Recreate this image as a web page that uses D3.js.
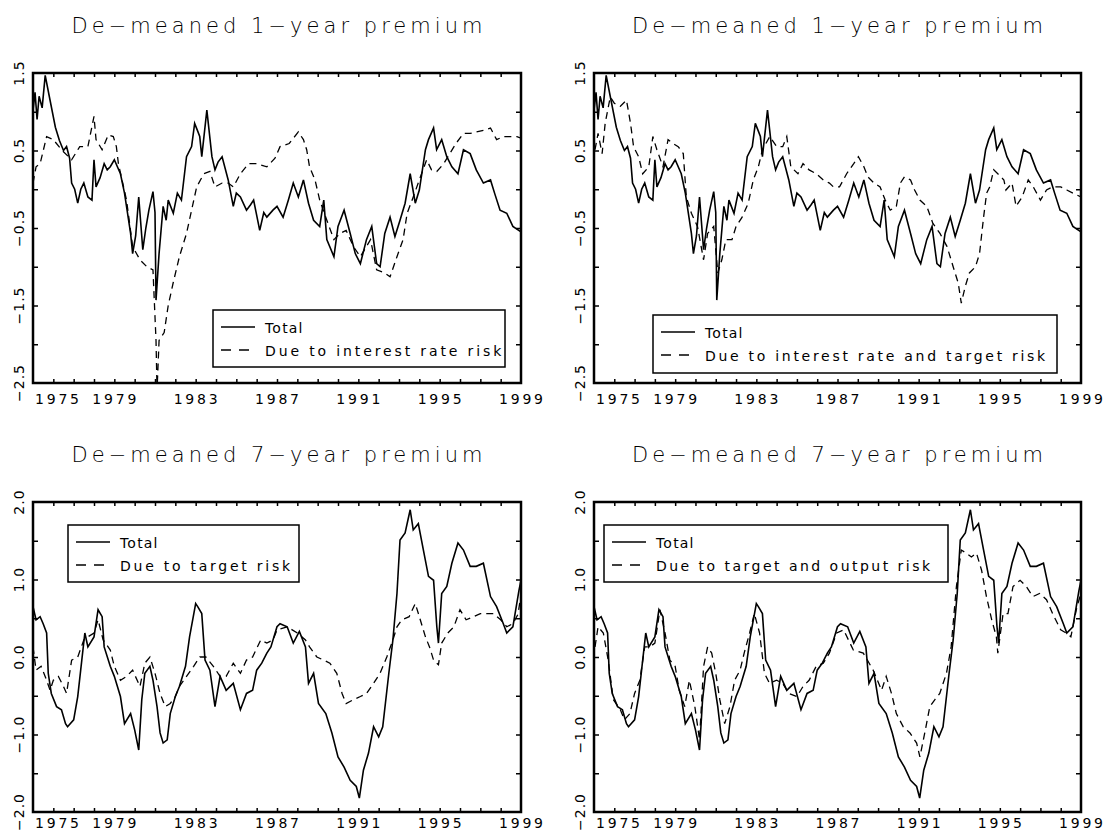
<!DOCTYPE html>
<html>
<head>
<meta charset="utf-8">
<script src="https://cdn.jsdelivr.net/npm/d3@7"></script>
<style>
  html,body{margin:0;padding:0;background:#fff;}
  svg{display:block;}
  text{fill:#000;}
</style>
</head>
<body>
<svg id="chart" width="1108" height="834"></svg>
<script>
// ---------------- DATA ----------------
const xTickLabels = [1975, 1979, 1983, 1987, 1991, 1995, 1999];
const yLabels1 = [1.5, 0.5, -0.5, -1.5, -2.5];
const yLabels7 = [2.0, 1.0, 0.0, -1.0, -2.0];

const titles = ["De\u2212meaned 1\u2212year premium", "De\u2212meaned 1\u2212year premium",
                "De\u2212meaned 7\u2212year premium", "De\u2212meaned 7\u2212year premium"];
const legendTotal = "Total";
const legendParts = ["Due to interest rate risk", "Due to interest rate and target risk",
                     "Due to target risk", "Due to target and output risk"];

// 1-year premium, total
const total1Years = [1975.00,1975.10,1975.20,1975.30,1975.45,1975.60,1975.80,1976.10,1976.30,1976.50,1976.65,1976.80,1976.90,1977.05,1977.20,1977.35,1977.50,1977.70,1977.90,1978.00,1978.10,1978.30,1978.50,1978.65,1978.80,1979.00,1979.30,1979.50,1979.80,1979.90,1980.05,1980.20,1980.40,1980.55,1980.70,1980.90,1981.00,1981.05,1981.20,1981.40,1981.55,1981.65,1981.90,1982.10,1982.30,1982.55,1982.80,1982.95,1983.10,1983.20,1983.30,1983.55,1983.80,1983.95,1984.10,1984.30,1984.60,1984.85,1985.00,1985.20,1985.50,1985.70,1985.85,1986.15,1986.35,1986.50,1986.80,1987.00,1987.30,1987.56,1987.80,1988.05,1988.30,1988.55,1988.80,1989.10,1989.30,1989.45,1989.80,1990.00,1990.30,1990.60,1990.85,1991.10,1991.40,1991.66,1991.90,1992.07,1992.30,1992.56,1992.80,1993.05,1993.30,1993.55,1993.80,1994.00,1994.30,1994.45,1994.70,1994.85,1995.10,1995.35,1995.60,1995.90,1996.17,1996.50,1996.80,1997.15,1997.50,1997.70,1997.97,1998.30,1998.60,1999.00];
const total1Values = [1.02,1.25,0.90,1.20,1.05,1.47,1.20,0.80,0.63,0.50,0.55,0.40,0.08,0.00,-0.18,0.00,0.08,-0.10,-0.14,0.38,0.03,0.15,0.33,0.25,0.29,0.38,0.20,-0.05,-0.57,-0.83,-0.60,-0.10,-0.78,-0.50,-0.27,-0.03,-0.30,-1.43,-0.83,-0.22,-0.40,-0.14,-0.31,-0.05,-0.14,0.42,0.55,0.85,0.75,0.68,0.42,1.02,0.42,0.25,0.35,0.42,0.12,-0.22,-0.05,-0.10,-0.27,-0.20,-0.14,-0.53,-0.30,-0.36,-0.27,-0.22,-0.36,-0.14,0.08,-0.10,0.12,-0.18,-0.40,-0.48,-0.14,-0.65,-0.87,-0.48,-0.27,-0.57,-0.83,-0.96,-0.65,-0.48,-0.96,-1.00,-0.57,-0.36,-0.61,-0.40,-0.18,0.20,-0.18,-0.01,0.51,0.64,0.79,0.51,0.64,0.42,0.29,0.20,0.51,0.46,0.25,0.08,0.12,-0.05,-0.27,-0.31,-0.48,-0.55];

// 1-year premium, due to interest rate risk
const rate1Years = [1975.00,1975.15,1975.35,1975.67,1976.00,1976.40,1976.90,1977.30,1977.70,1978.00,1978.10,1978.40,1978.70,1978.95,1979.10,1979.20,1979.60,1979.90,1980.26,1980.60,1980.90,1981.05,1981.10,1981.20,1981.45,1981.65,1981.90,1982.20,1982.55,1982.80,1983.05,1983.40,1983.70,1983.95,1984.30,1984.60,1984.85,1985.20,1985.60,1986.00,1986.50,1986.90,1987.15,1987.60,1988.05,1988.30,1988.46,1988.60,1988.87,1989.10,1989.45,1989.80,1990.10,1990.40,1990.76,1991.10,1991.60,1991.90,1992.30,1992.56,1992.90,1993.20,1993.40,1993.70,1994.00,1994.36,1994.60,1994.86,1995.20,1995.50,1995.80,1996.17,1996.50,1996.80,1997.15,1997.50,1997.80,1998.13,1998.46,1998.80,1999.00];
const rate1Values = [0.08,0.29,0.33,0.68,0.64,0.51,0.38,0.55,0.55,0.94,0.64,0.51,0.70,0.68,0.55,0.33,-0.14,-0.74,-0.91,-1.00,-1.04,-1.95,-2.60,-1.95,-1.85,-1.50,-1.20,-0.87,-0.57,-0.27,0.03,0.20,0.23,0.03,0.08,0.08,0.03,0.20,0.33,0.33,0.29,0.40,0.55,0.59,0.74,0.64,0.51,0.29,0.12,-0.14,-0.40,-0.65,-0.57,-0.53,-0.74,-0.87,-0.65,-1.04,-1.08,-1.13,-0.87,-0.65,-0.31,-0.10,0.12,0.38,0.25,0.23,0.33,0.46,0.59,0.72,0.72,0.74,0.76,0.79,0.64,0.68,0.68,0.68,0.66];

// 1-year premium, due to interest rate and target risk
const rateTarget1Years = [1975.05,1975.20,1975.40,1975.55,1975.80,1976.00,1976.30,1976.60,1976.80,1976.95,1977.20,1977.40,1977.70,1977.90,1978.10,1978.40,1978.65,1978.90,1979.15,1979.40,1979.55,1979.80,1980.10,1980.40,1980.60,1980.90,1981.10,1981.30,1981.50,1981.80,1982.00,1982.30,1982.60,1982.85,1983.10,1983.30,1983.66,1984.00,1984.30,1984.50,1984.70,1985.05,1985.30,1985.60,1985.95,1986.30,1986.60,1986.80,1987.10,1987.45,1987.80,1988.03,1988.30,1988.50,1988.80,1989.10,1989.35,1989.60,1989.90,1990.10,1990.30,1990.60,1990.80,1991.06,1991.40,1991.70,1992.05,1992.40,1992.70,1992.95,1993.10,1993.30,1993.50,1993.80,1994.00,1994.20,1994.35,1994.50,1994.70,1994.90,1995.20,1995.30,1995.60,1995.80,1996.10,1996.40,1996.65,1997.00,1997.30,1997.60,1998.00,1998.30,1998.60,1999.00];
const rateTarget1Values = [0.51,0.72,0.46,0.85,1.19,1.11,1.07,1.15,0.85,0.55,0.42,0.20,0.29,0.68,0.51,0.29,0.64,0.59,0.55,0.46,-0.10,-0.31,-0.48,-0.91,-0.57,-0.48,-1.08,-0.91,-0.65,-0.65,-0.48,-0.36,-0.18,0.12,0.29,0.51,0.68,0.55,0.55,0.68,0.29,0.20,0.33,0.25,0.20,0.12,0.08,0.03,0.03,0.20,0.33,0.42,0.29,0.16,0.08,0.03,-0.14,-0.27,-0.22,0.08,0.16,0.12,-0.01,-0.14,-0.22,-0.44,-0.57,-0.74,-1.00,-1.21,-1.47,-1.25,-1.08,-1.00,-0.83,-0.36,-0.05,0.03,0.25,0.20,0.12,-0.01,0.08,-0.22,-0.10,0.12,0.03,-0.14,-0.01,0.03,0.03,-0.01,-0.05,-0.10];

// 7-year premium, total
const total7Years = [1975.00,1975.15,1975.35,1975.50,1975.67,1975.75,1975.90,1976.16,1976.40,1976.60,1976.70,1977.00,1977.20,1977.40,1977.55,1977.70,1978.00,1978.20,1978.40,1978.50,1978.80,1979.00,1979.30,1979.50,1979.80,1980.00,1980.20,1980.35,1980.50,1980.75,1980.90,1981.10,1981.25,1981.40,1981.60,1981.75,1982.00,1982.20,1982.50,1982.70,1983.00,1983.10,1983.30,1983.46,1983.70,1983.95,1984.20,1984.50,1984.85,1985.20,1985.50,1985.80,1986.00,1986.25,1986.50,1986.70,1987.00,1987.15,1987.50,1987.80,1988.10,1988.40,1988.55,1988.80,1989.04,1989.40,1989.70,1990.00,1990.30,1990.60,1990.90,1991.05,1991.25,1991.50,1991.75,1992.00,1992.20,1992.50,1992.70,1992.90,1993.05,1993.30,1993.55,1993.70,1993.95,1994.20,1994.45,1994.70,1994.86,1994.94,1995.10,1995.35,1995.60,1995.90,1996.17,1996.50,1996.80,1997.15,1997.50,1997.80,1998.13,1998.30,1998.60,1998.90,1999.00];
const total7Values = [0.65,0.48,0.52,0.43,0.31,-0.21,-0.47,-0.64,-0.68,-0.86,-0.90,-0.81,-0.51,-0.04,0.31,0.13,0.26,0.61,0.52,0.13,-0.12,-0.25,-0.51,-0.86,-0.73,-0.94,-1.20,-0.55,-0.21,-0.12,-0.30,-0.64,-0.98,-1.11,-1.07,-0.73,-0.51,-0.38,-0.12,0.26,0.69,0.65,0.56,-0.04,-0.17,-0.64,-0.25,-0.43,-0.34,-0.68,-0.47,-0.43,-0.17,-0.08,0.05,0.13,0.39,0.43,0.39,0.18,0.33,0.13,-0.34,-0.21,-0.60,-0.73,-0.98,-1.29,-1.42,-1.59,-1.67,-1.82,-1.46,-1.24,-0.90,-1.03,-0.90,-0.21,0.22,0.82,1.51,1.60,1.90,1.64,1.72,1.38,1.04,0.99,0.39,0.18,0.82,0.91,1.21,1.47,1.38,1.17,1.17,1.21,0.78,0.65,0.43,0.31,0.39,0.86,0.99];

// 7-year premium, due to target risk
const target7Years = [1975.00,1975.15,1975.40,1975.67,1975.84,1976.00,1976.25,1976.50,1976.65,1976.90,1977.20,1977.50,1977.70,1978.00,1978.20,1978.45,1978.80,1979.00,1979.30,1979.60,1979.90,1980.26,1980.50,1980.75,1981.00,1981.25,1981.50,1981.75,1982.00,1982.20,1982.55,1982.90,1983.20,1983.50,1983.87,1984.20,1984.50,1984.85,1985.20,1985.50,1985.80,1986.20,1986.50,1986.80,1987.00,1987.50,1988.00,1988.40,1988.60,1988.96,1989.30,1989.60,1989.94,1990.20,1990.40,1990.76,1991.10,1991.40,1991.75,1992.07,1992.40,1992.70,1992.90,1993.14,1993.50,1993.80,1994.00,1994.30,1994.50,1994.70,1994.94,1995.10,1995.40,1995.70,1996.00,1996.30,1996.66,1997.00,1997.30,1997.65,1998.00,1998.30,1998.60,1998.85,1999.00];
const target7Values = [0.13,-0.17,-0.12,-0.30,-0.43,-0.30,-0.25,-0.38,-0.47,-0.04,0.00,0.22,0.26,0.31,0.48,0.22,0.09,-0.12,-0.30,-0.25,-0.17,-0.38,-0.08,0.00,-0.21,-0.47,-0.64,-0.60,-0.51,-0.38,-0.25,-0.12,0.00,0.00,-0.12,-0.25,-0.25,-0.08,-0.21,-0.04,0.00,0.22,0.18,0.22,0.35,0.39,0.31,0.22,0.13,0.00,-0.04,-0.08,-0.21,-0.47,-0.60,-0.55,-0.51,-0.47,-0.34,-0.21,0.00,0.22,0.39,0.48,0.52,0.69,0.52,0.26,0.13,-0.04,-0.10,0.18,0.31,0.39,0.61,0.48,0.52,0.56,0.56,0.56,0.48,0.39,0.43,0.55,0.80];

// 7-year premium, due to target and output risk
const targetOutput7Years = [1975.05,1975.20,1975.46,1975.70,1975.95,1976.30,1976.50,1976.77,1977.00,1977.26,1977.50,1977.75,1978.00,1978.25,1978.50,1978.74,1979.00,1979.20,1979.47,1979.70,1979.97,1980.20,1980.40,1980.60,1980.80,1981.00,1981.20,1981.44,1981.70,1981.93,1982.20,1982.40,1982.67,1982.90,1983.16,1983.40,1983.65,1984.00,1984.30,1984.60,1985.00,1985.30,1985.60,1985.95,1986.30,1986.60,1986.96,1987.30,1987.78,1988.27,1988.76,1989.17,1989.40,1989.66,1989.90,1990.24,1990.57,1990.90,1991.06,1991.30,1991.55,1991.80,1992.04,1992.37,1992.60,1992.86,1993.10,1993.35,1993.60,1993.85,1994.10,1994.34,1994.60,1994.83,1994.90,1995.16,1995.40,1995.65,1996.00,1996.30,1996.63,1996.96,1997.30,1997.60,1998.00,1998.27,1998.50,1998.80,1999.00];
const targetOutput7Values = [0.13,0.39,0.31,-0.04,-0.55,-0.68,-0.81,-0.73,-0.47,-0.30,0.13,0.13,0.18,0.61,0.31,-0.04,-0.12,-0.43,-0.64,-0.30,-0.64,-1.07,-0.12,0.13,0.05,-0.21,-0.55,-0.86,-0.64,-0.30,-0.17,0.05,0.31,0.56,0.31,-0.21,-0.34,-0.30,-0.34,-0.47,-0.51,-0.38,-0.30,-0.12,-0.08,0.05,0.31,0.35,0.09,0.05,-0.17,-0.43,-0.25,-0.47,-0.73,-0.90,-0.98,-1.11,-1.29,-0.98,-0.64,-0.55,-0.47,-0.21,0.13,0.91,1.38,1.34,1.29,1.34,1.12,0.78,0.48,0.26,0.05,0.56,0.56,0.91,0.99,0.91,0.78,0.82,0.74,0.56,0.35,0.31,0.26,0.65,0.82];

// ---------------- DRAW ----------------
const svg = d3.select("#chart");
svg.append("rect").attr("width",1108).attr("height",834).attr("fill","#fff");

const zip = (xs, ys) => xs.map((x,i) => [x, ys[i]]);

const panels = [
  {left:33, top:73, w:488, h:310, dom:[-2.5,1.5], labels:yLabels1, title:titles[0], labY:21,
   total:zip(total1Years,total1Values), part:zip(rate1Years,rate1Values), partLabel:legendParts[0],
   legend:{x:213, y:310, w:292, h:57}},
  {left:594, top:73, w:487, h:310, dom:[-2.5,1.5], labels:yLabels1, title:titles[1], labY:21,
   total:zip(total1Years,total1Values), part:zip(rateTarget1Years,rateTarget1Values), partLabel:legendParts[1],
   legend:{x:653, y:315, w:404, h:58}},
  {left:33, top:502, w:488, h:310, dom:[-2.0,2.0], labels:yLabels7, title:titles[2], labY:16,
   total:zip(total7Years,total7Values), part:zip(target7Years,target7Values), partLabel:legendParts[2],
   legend:{x:68, y:525, w:231, h:57}},
  {left:594, top:502, w:487, h:310, dom:[-2.0,2.0], labels:yLabels7, title:titles[3], labY:16,
   total:zip(total7Years,total7Values), part:zip(targetOutput7Years,targetOutput7Values), partLabel:legendParts[3],
   legend:{x:604, y:525, w:344, h:57}}
];

const FONT = "'DejaVu Sans', sans-serif";
const fmt = d3.format(".1f");

panels.forEach((p, i) => {
  const g = svg.append("g");
  const x = d3.scaleLinear().domain([1975, 1999]).range([p.left, p.left + p.w]);
  const y = d3.scaleLinear().domain(p.dom).range([p.top + p.h, p.top]);

  // title
  g.append("text")
    .attr("x", p.left + p.w/2).attr("y", p.top - 40)
    .attr("text-anchor","middle")
    .attr("font-family", FONT).attr("font-weight", 300).attr("font-size", 21)
    .attr("textLength", 411).attr("lengthAdjust","spacing")
    .text(p.title);

  // clip
  const cid = "clip" + i;
  svg.append("clipPath").attr("id", cid).append("rect")
    .attr("x", p.left).attr("y", p.top).attr("width", p.w).attr("height", p.h);

  const line = d3.line().x(d => x(d[0])).y(d => y(d[1]));
  const plot = g.append("g").attr("clip-path", `url(#${cid})`);
  plot.append("path").datum(p.part).attr("d", line)
    .attr("fill","none").attr("stroke","#000").attr("stroke-width",1.3)
    .attr("stroke-dasharray","7,5");
  plot.append("path").datum(p.total).attr("d", line)
    .attr("fill","none").attr("stroke","#000").attr("stroke-width",1.6)
    .attr("stroke-linejoin","miter");

  // ticks (inside) via d3 axes
  const yearTicks = d3.range(1976, 1999);
  const yTicks = d3.range(p.dom[0] + 0.5, p.dom[1] - 0.25, 0.5);
  const axStyle = sel => { sel.select(".domain").remove(); sel.selectAll("line").attr("stroke","#000").attr("stroke-width",1.5); sel.selectAll("text").remove(); };
  g.append("g").attr("transform",`translate(0,${p.top + p.h})`)
    .call(d3.axisBottom(x).tickValues(yearTicks).tickSize(-4).tickFormat("")).call(axStyle);
  g.append("g").attr("transform",`translate(0,${p.top})`)
    .call(d3.axisTop(x).tickValues(yearTicks).tickSize(-4).tickFormat("")).call(axStyle);
  g.append("g").attr("transform",`translate(${p.left},0)`)
    .call(d3.axisLeft(y).tickValues(yTicks).tickSize(-5).tickFormat("")).call(axStyle);
  g.append("g").attr("transform",`translate(${p.left + p.w},0)`)
    .call(d3.axisRight(y).tickValues(yTicks).tickSize(-5).tickFormat("")).call(axStyle);

  // frame
  g.append("rect").attr("x", p.left).attr("y", p.top).attr("width", p.w).attr("height", p.h)
    .attr("fill","none").attr("stroke","#000").attr("stroke-width",2.5);

  // x labels
  g.selectAll(".xl").data(xTickLabels).enter().append("text")
    .attr("x", d => d === 1975 ? x(d) + 2 : x(d))
    .attr("y", p.top + p.h + p.labY)
    .attr("text-anchor", d => d === 1975 ? "start" : "middle")
    .attr("font-family", FONT).attr("font-size", 14)
    .attr("textLength", 44).attr("lengthAdjust","spacing")
    .text(d => d);

  // y labels (rotated)
  g.selectAll(".yl").data(p.labels).enter().append("text")
    .attr("transform", d => `translate(${p.left - 14},${y(d)}) rotate(-90)`)
    .attr("text-anchor","middle").attr("dy","0.35em")
    .attr("font-family", FONT).attr("font-size", 14)
    .attr("letter-spacing", 1)
    .text(d => fmt(d));

  // legend
  const L = p.legend;
  const lg = g.append("g");
  lg.append("rect").attr("x", L.x).attr("y", L.y).attr("width", L.w).attr("height", L.h)
    .attr("fill","#fff").attr("stroke","#000").attr("stroke-width",1.5);
  lg.append("line").attr("x1", L.x + 8).attr("x2", L.x + 42).attr("y1", L.y + 17).attr("y2", L.y + 17)
    .attr("stroke","#000").attr("stroke-width",1.5);
  lg.append("line").attr("x1", L.x + 8).attr("x2", L.x + 42).attr("y1", L.y + 40).attr("y2", L.y + 40)
    .attr("stroke","#000").attr("stroke-width",1.5).attr("stroke-dasharray","10,8");
  lg.append("text").attr("x", L.x + 52).attr("y", L.y + 23)
    .attr("font-family", FONT).attr("font-size", 14).attr("letter-spacing", 1.2)
    .text(legendTotal);
  lg.append("text").attr("x", L.x + 52).attr("y", L.y + 46)
    .attr("font-family", FONT).attr("font-size", 14)
    .attr("textLength", p.partLabel.length * 9.45).attr("lengthAdjust","spacing")
    .text(p.partLabel);
});
</script>
</body>
</html>
